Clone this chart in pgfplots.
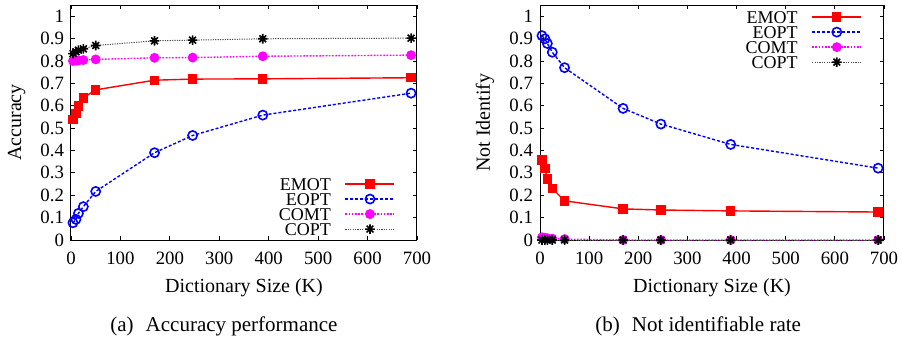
\documentclass[border=0pt]{standalone}
\usepackage{fontspec}
\setmainfont{Liberation Serif}
\usepackage{pgfplots}
\pgfplotsset{compat=1.18}
\pgfdeclareplotmark{pstar}{%
  \pgfpathmoveto{\pgfqpoint{-\pgfplotmarksize}{0pt}}\pgfpathlineto{\pgfqpoint{\pgfplotmarksize}{0pt}}%
  \pgfpathmoveto{\pgfqpoint{0pt}{-\pgfplotmarksize}}\pgfpathlineto{\pgfqpoint{0pt}{\pgfplotmarksize}}%
  \pgfpathmoveto{\pgfqpoint{-.707\pgfplotmarksize}{-.707\pgfplotmarksize}}\pgfpathlineto{\pgfqpoint{.707\pgfplotmarksize}{.707\pgfplotmarksize}}%
  \pgfpathmoveto{\pgfqpoint{-.707\pgfplotmarksize}{.707\pgfplotmarksize}}\pgfpathlineto{\pgfqpoint{.707\pgfplotmarksize}{-.707\pgfplotmarksize}}%
  \pgfusepathqstroke}
\definecolor{gred}{RGB}{255,0,0}
\definecolor{gblue}{RGB}{0,0,255}
\definecolor{gmag}{RGB}{255,0,255}
\pgfplotsset{
  gp/.style={
    scale only axis, width=173pt, height=117.5pt,
    xmin=0, xmax=700, ymin=0, ymax=1.05,
    xtick={0,100,...,700},
    ytick={0,0.1,0.2,0.3,0.4,0.5,0.6,0.7,0.8,0.9,1},
    yticklabels={0,0.1,0.2,0.3,0.4,0.5,0.6,0.7,0.8,0.9,1},
    tick align=inside, tick pos=both, major tick length=2pt,
    axis line style={line width=0.5pt}, every tick/.style={black, line width=0.4pt},
    /pgf/number format/assume math mode=true,
    tick label style={font=\fontsize{9.4}{10}\selectfont},
    xticklabel style={yshift=-2.5pt},
    label style={font=\fontsize{9.4}{10}\selectfont},
    xlabel={Dictionary Size (K)},
    every axis x label/.style={at={(axis description cs:0.5,-0.204)}, anchor=center},
    legend plot pos=right, legend cell align=right,
    legend style={draw=none, fill=none, inner sep=0pt, outer sep=0pt,
      font=\fontsize{9}{9}\selectfont, row sep=1.5pt,
      nodes={inner sep=0pt, text height=6pt, text depth=0pt},
      /tikz/every odd column/.style={column sep=7pt}},
    legend image code/.code={\draw[mark repeat=2,mark phase=2,##1] plot coordinates {(0pt,0pt)(12.25pt,0pt)(24.5pt,0pt)};},
    clip=false,
  },
  emot/.style={color=gred, line width=0.7pt, solid, mark=square*, mark size=2pt, mark options={solid, fill=gred}},
  eopt/.style={color=gblue, line width=0.7pt, dash pattern=on 1.5pt off 1pt, mark=o, mark size=2.3pt, mark options={solid, line width=0.8pt}},
  comt/.style={color=gmag, line width=0.7pt, dash pattern=on 0.8pt off 0.8pt, mark=*, mark size=2.1pt, mark options={solid, fill=gmag}},
  copt/.style={color=black!70, line width=0.5pt, dash pattern=on 0.6pt off 0.6pt, mark=pstar, mark size=2.4pt, mark options={solid, black, line width=0.8pt}},
}
\begin{document}
\begin{tikzpicture}
\path[use as bounding box] (0pt,0pt) rectangle (451pt,171.5pt);
\begin{axis}[gp, at={(35.5pt,51.5pt)}, anchor=south west,
  ylabel={Accuracy},
  every axis y label/.style={at={(axis description cs:-0.157,0.5)}, rotate=90, anchor=center},
  legend style={at={(axis description cs:0.937,0.021)}, anchor=south east}]
\addplot[emot] coordinates {(4,0.539)(10,0.566)(15,0.598)(25,0.635)(50,0.671)(169,0.714)(246,0.719)(388,0.720)(688,0.725)};
\addlegendentry{EMOT}
\addplot[eopt] coordinates {(4,0.077)(10,0.092)(15,0.119)(25,0.149)(50,0.217)(169,0.390)(246,0.467)(388,0.558)(688,0.656)};
\addlegendentry{EOPT}
\addplot[comt] coordinates {(4,0.800)(10,0.801)(15,0.802)(25,0.804)(50,0.807)(169,0.814)(246,0.815)(388,0.821)(688,0.826)};
\addlegendentry{COMT}
\addplot[copt] coordinates {(4,0.833)(10,0.841)(15,0.848)(25,0.854)(50,0.869)(169,0.890)(246,0.893)(388,0.899)(688,0.902)};
\addlegendentry{COPT}
\end{axis}
\begin{axis}[gp, width=172pt, at={(270pt,51.5pt)}, anchor=south west,
  ylabel={Not Identify},
  every axis y label/.style={at={(axis description cs:-0.16,0.5)}, rotate=90, anchor=center},
  legend style={at={(axis description cs:0.936,0.974)}, anchor=north east}]
\addplot[emot] coordinates {(4,0.358)(10,0.319)(15,0.273)(25,0.230)(50,0.175)(169,0.139)(246,0.134)(388,0.130)(688,0.125)};
\addlegendentry{EMOT}
\addplot[eopt] coordinates {(4,0.913)(10,0.899)(15,0.878)(25,0.839)(50,0.770)(169,0.588)(246,0.518)(388,0.427)(688,0.321)};
\addlegendentry{EOPT}
\addplot[comt] coordinates {(4,0.012)(10,0.010)(15,0.008)(25,0.006)(50,0.004)(169,0.0)(246,0.0)(388,0.0)(688,0.0)};
\addlegendentry{COMT}
\addplot[copt] coordinates {(4,0)(10,0)(15,0)(25,0)(50,0)(169,0)(246,0)(388,0)(688,0)};
\addlegendentry{COPT}
\end{axis}
\node[anchor=base west, font=\fontsize{10.5}{12}\selectfont, inner sep=0pt] at (55pt,5.65pt) {(a)\hspace{6pt}Accuracy performance};
\node[anchor=base west, font=\fontsize{10.5}{12}\selectfont, inner sep=0pt] at (297.5pt,5.65pt) {(b)\hspace{6pt}Not identifiable rate};
\end{tikzpicture}
\end{document}
